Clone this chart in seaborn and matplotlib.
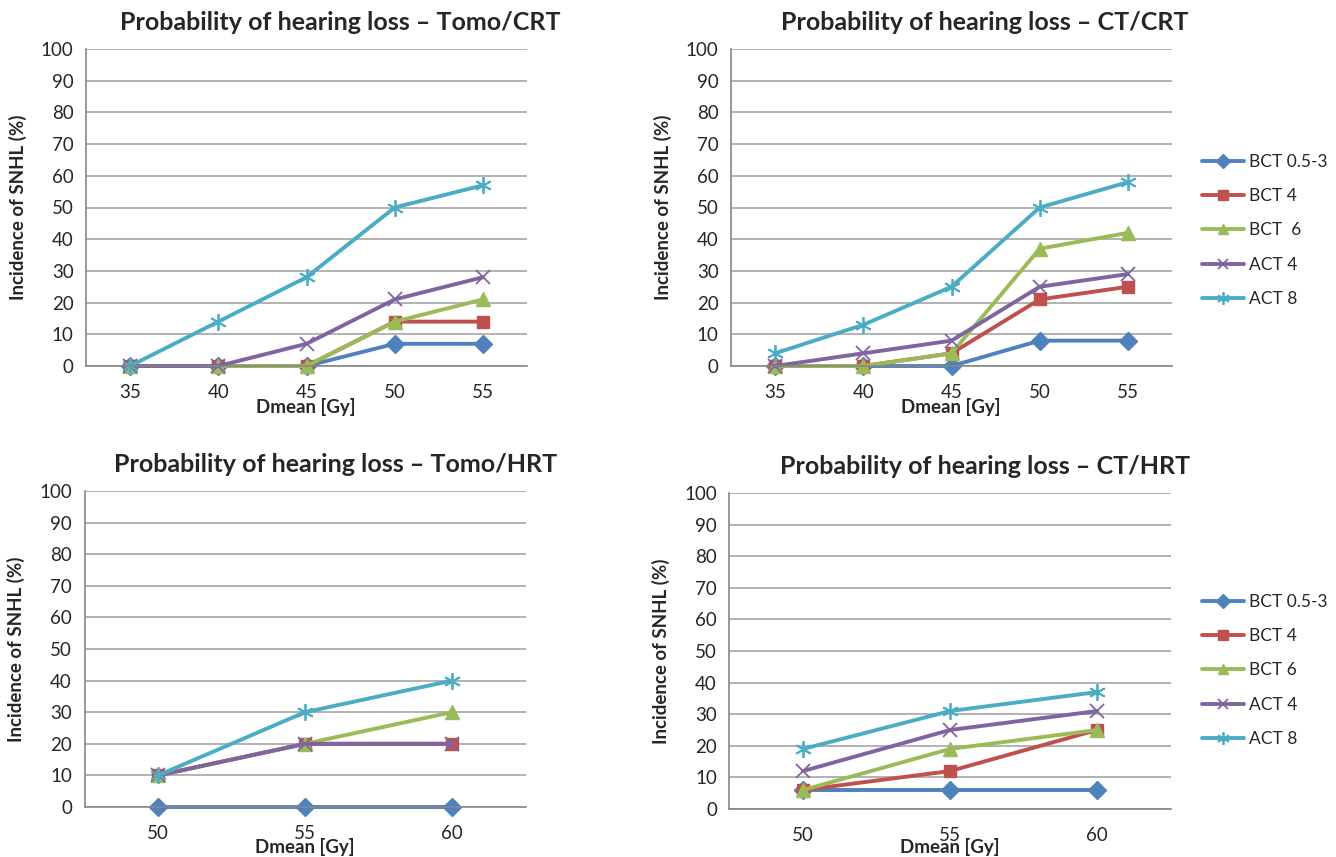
import pandas as pd
import matplotlib
import matplotlib.pyplot as plt
import seaborn as sns
from matplotlib.ticker import FixedLocator

matplotlib.use('Agg')

# Dose categories
dose_crt = [35, 40, 45, 50, 55]
dose_hrt = [50, 55, 60]

series_names = ['BCT 0.5-3', 'BCT 4', 'BCT 6', 'ACT 4', 'ACT 8']

# Tomo/CRT
tomo_crt_bct05 = [0, 0, 0, 7, 7]
tomo_crt_bct4 = [0, 0, 0, 14, 14]
tomo_crt_bct6 = [0, 0, 0, 14, 21]
tomo_crt_act4 = [0, 0, 7, 21, 28]
tomo_crt_act8 = [0, 14, 28, 50, 57]

# CT/CRT
ct_crt_bct05 = [0, 0, 0, 8, 8]
ct_crt_bct4 = [0, 0, 4, 21, 25]
ct_crt_bct6 = [0, 0, 4, 37, 42]
ct_crt_act4 = [0, 4, 8, 25, 29]
ct_crt_act8 = [4, 13, 25, 50, 58]

# Tomo/HRT
tomo_hrt_bct05 = [0, 0, 0]
tomo_hrt_bct4 = [10, 20, 20]
tomo_hrt_bct6 = [10, 20, 30]
tomo_hrt_act4 = [10, 20, 20]
tomo_hrt_act8 = [10, 30, 40]

# CT/HRT
ct_hrt_bct05 = [6, 6, 6]
ct_hrt_bct4 = [6, 12, 25]
ct_hrt_bct6 = [6, 19, 25]
ct_hrt_act4 = [12, 25, 31]
ct_hrt_act8 = [19, 31, 37]

colors = ['#4F81BD', '#C0504D', '#9BBB59', '#8064A2', '#4BACC6']
markers = ['D', 's', '^', 'x', (6, 2, 0)]
marker_sizes = [9, 9, 10, 10, 12]

sns.set_style('white')
plt.rcParams['font.family'] = ['Lato', 'DejaVu Sans']

W, H = 1336, 857
fig = plt.figure(figsize=(W / 100, H / 100), dpi=100)


def make_axes(left, right, top, bottom):
    return fig.add_axes([left / W, 1 - bottom / H, (right - left) / W, (bottom - top) / H])


def draw_panel(ax, doses, values, title, title_xy, labels):
    for i, name in enumerate(series_names):
        lw_m = 1.3 if markers[i] in ('x', (6, 2, 0)) else 1.0
        sns.lineplot(x=doses, y=values[i], ax=ax, color=colors[i], marker=markers[i],
                     markersize=marker_sizes[i], markeredgewidth=lw_m,
                     markeredgecolor=colors[i], linewidth=2.8, label=labels[i],
                     legend=False)
    step = doses[1] - doses[0]
    ax.set_xlim(doses[0] - step / 2, doses[-1] + step / 2)
    ax.set_ylim(0, 100)
    ax.set_xticks(doses)
    ax.set_xticklabels([str(d) for d in doses], fontsize=13.5)
    ax.xaxis.set_minor_locator(FixedLocator(
        [doses[0] - step / 2 + k * step for k in range(len(doses) + 1)]))
    ax.set_yticks(range(0, 101, 10))
    ax.set_yticklabels([str(v) for v in range(0, 101, 10)], fontsize=13.5)
    ax.tick_params(axis='x', which='major', length=0, pad=13)
    ax.tick_params(axis='x', which='minor', length=5, color='#878787', width=1)
    ax.tick_params(axis='y', length=5, color='#878787', width=1, pad=4)
    ax.grid(axis='y', color='#a6a6a6', linewidth=1.2)
    ax.set_axisbelow(True)
    for s in ['top', 'right']:
        ax.spines[s].set_visible(False)
    for s in ['left', 'bottom']:
        ax.spines[s].set_color('#878787')
        ax.spines[s].set_linewidth(1.2)
    for ln in ax.lines:
        ln.set_clip_on(False)
    ax.set_xlabel('')
    ax.set_ylabel('Incidence of SNHL (%)', fontsize=13.5, fontweight='bold', labelpad=10)
    fig.text(title_xy[0] / W, 1 - title_xy[1] / H, title, ha='center', va='center',
             fontsize=18, fontweight='bold')


ax1 = make_axes(86, 527, 49, 366)
draw_panel(ax1, dose_crt,
           [tomo_crt_bct05, tomo_crt_bct4, tomo_crt_bct6, tomo_crt_act4, tomo_crt_act8],
           'Probability of hearing loss \u2013 Tomo/CRT', (340, 22), series_names)
fig.text(306 / W, 1 - 407 / H, 'Dmean [Gy]', ha='center', va='center', fontsize=13.5, fontweight='bold')

ax2 = make_axes(731, 1172, 49, 366)
top_labels = ['BCT 0.5-3', 'BCT 4', 'BCT  6', 'ACT 4', 'ACT 8']
draw_panel(ax2, dose_crt,
           [ct_crt_bct05, ct_crt_bct4, ct_crt_bct6, ct_crt_act4, ct_crt_act8],
           'Probability of hearing loss \u2013 CT/CRT', (985, 22), top_labels)
fig.text(951 / W, 1 - 407 / H, 'Dmean [Gy]', ha='center', va='center', fontsize=13.5, fontweight='bold')

ax3 = make_axes(84.5, 525.5, 491, 807)
draw_panel(ax3, dose_hrt,
           [tomo_hrt_bct05, tomo_hrt_bct4, tomo_hrt_bct6, tomo_hrt_act4, tomo_hrt_act8],
           'Probability of hearing loss \u2013 Tomo/HRT', (336, 464), series_names)
fig.text(305 / W, 1 - 847 / H, 'Dmean [Gy]', ha='center', va='center', fontsize=13.5, fontweight='bold')

ax4 = make_axes(729.5, 1170.5, 493, 809)
draw_panel(ax4, dose_hrt,
           [ct_hrt_bct05, ct_hrt_bct4, ct_hrt_bct6, ct_hrt_act4, ct_hrt_act8],
           'Probability of hearing loss \u2013 CT/HRT', (985, 466), series_names)
fig.text(950 / W, 1 - 847 / H, 'Dmean [Gy]', ha='center', va='center', fontsize=13.5, fontweight='bold')

for ax, top_y in [(ax2, 154), (ax4, 594)]:
    handles, labels = ax.get_legend_handles_labels()
    fig.legend(handles, labels, loc='upper left', bbox_to_anchor=(1202 / W, 1 - top_y / H),
               frameon=False, fontsize=12.5, labelspacing=1.05, handlelength=2.4,
               handletextpad=0.3, markerscale=0.75, borderaxespad=0, borderpad=0)

plt.savefig('out.png', dpi=100)
plt.close()
